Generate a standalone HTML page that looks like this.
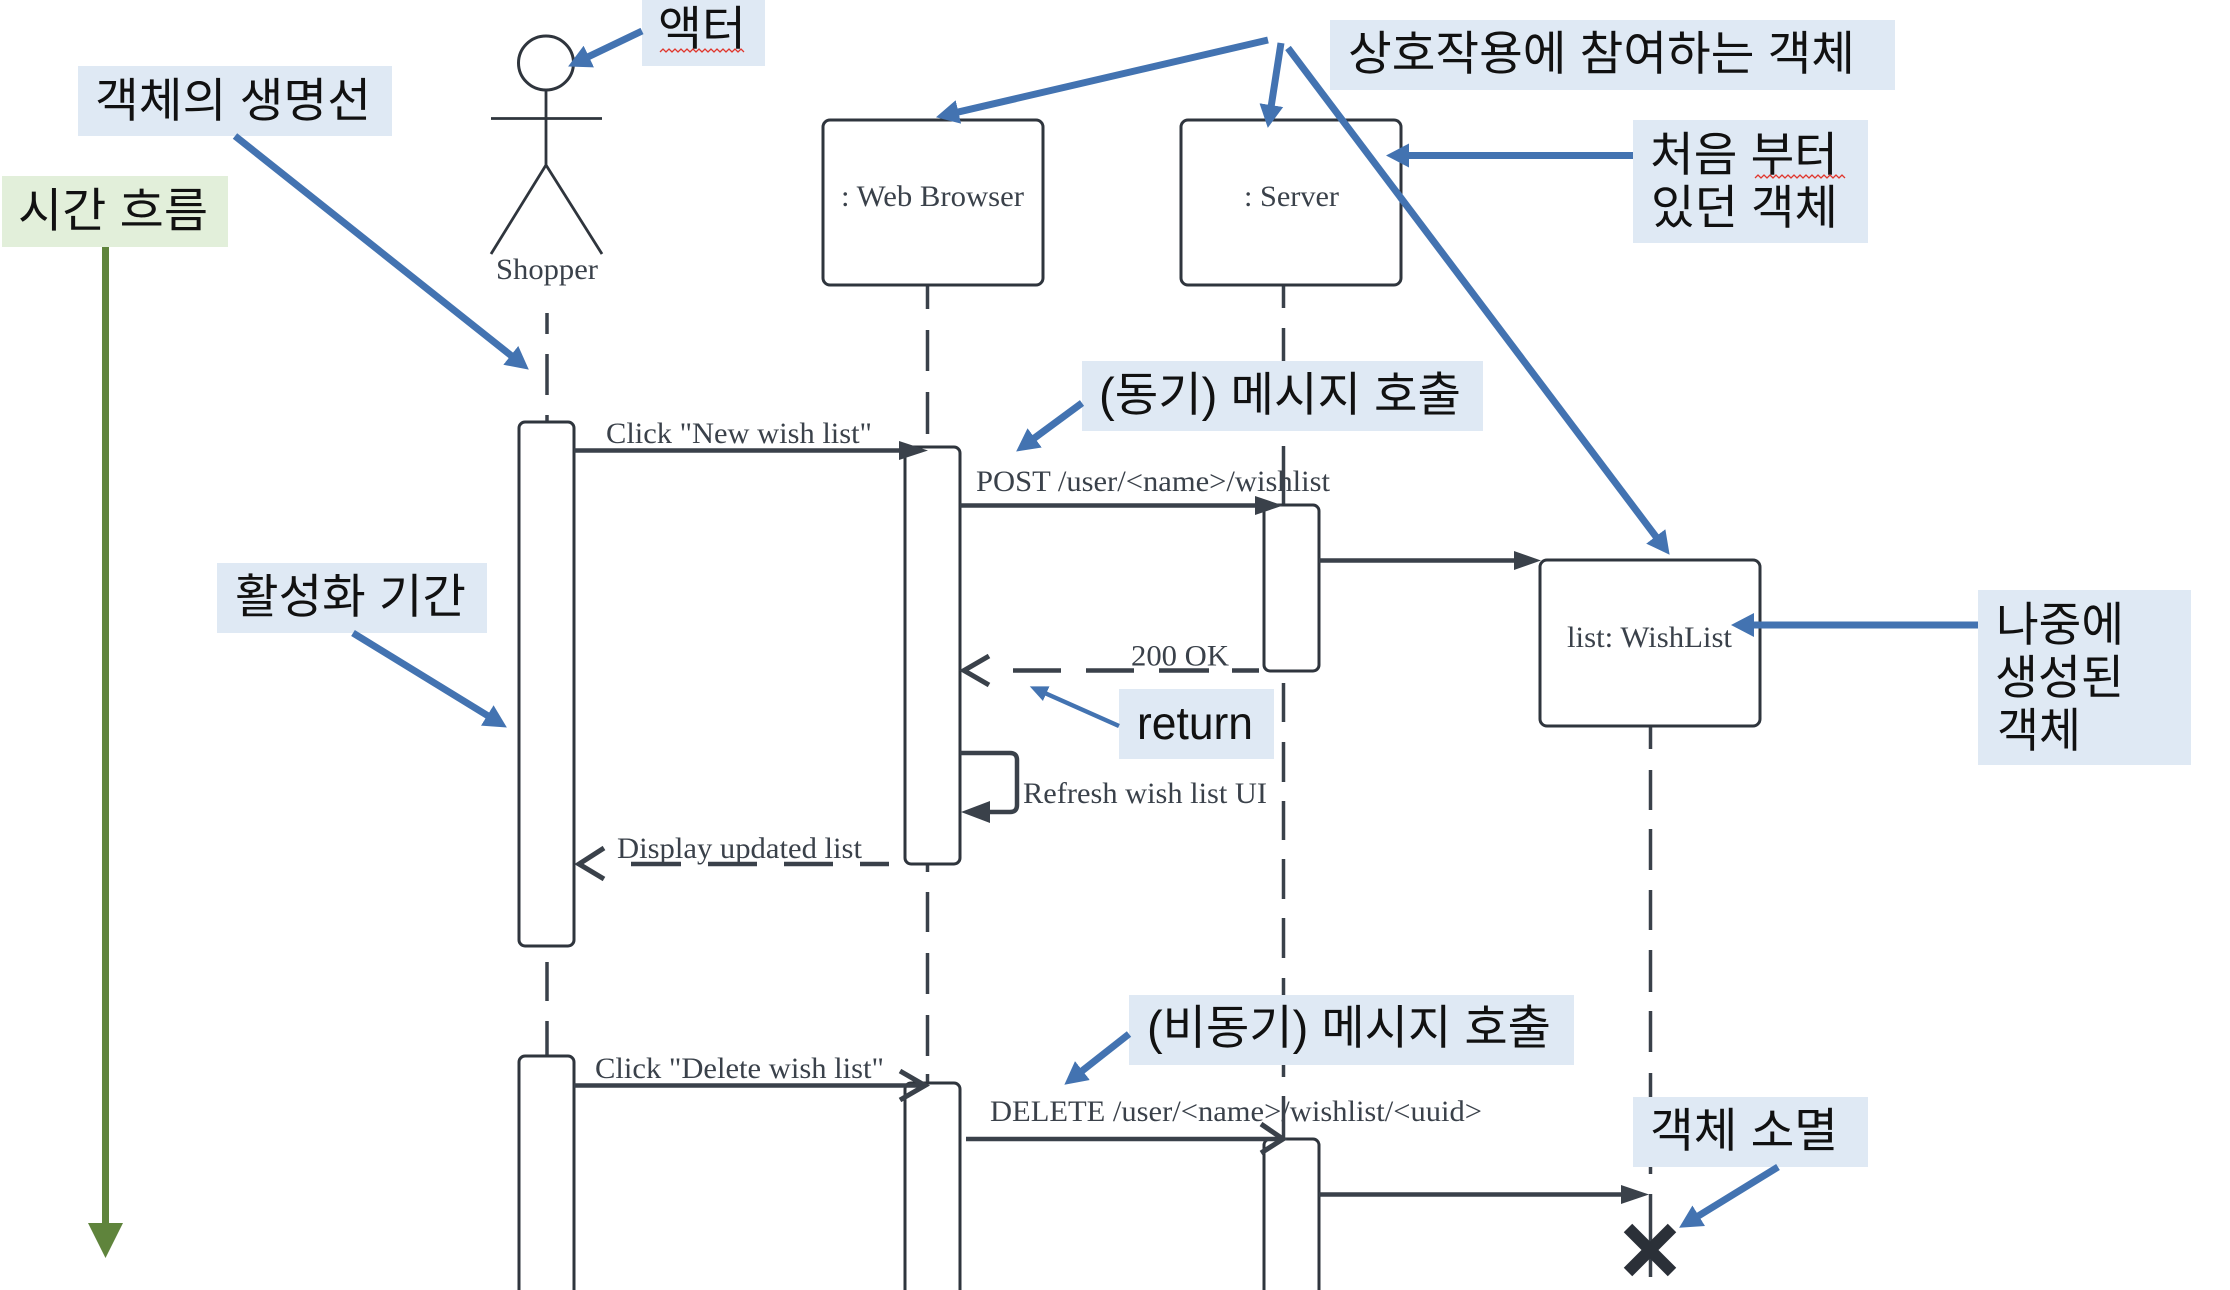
<!DOCTYPE html>
<html lang="ko">
<head>
<meta charset="utf-8">
<title>Sequence diagram</title>
<style>
html,body{margin:0;padding:0;background:#fff;width:2230px;height:1290px;overflow:hidden}
svg{display:block}
.s{font-family:"Liberation Serif",serif;font-size:30px;fill:#3a414a}
.k{font-family:"Liberation Sans","Noto Sans CJK KR",sans-serif;font-size:47px;fill:#111}
.b{fill:#dfe9f4}
.l{stroke:#3a414a;stroke-width:3.5;fill:none}
.m{stroke:#3a414a;stroke-width:4.5;fill:none}
.o{stroke:#3a414a;stroke-width:5;fill:none}
.box{fill:#fff;stroke:#2f353d;stroke-width:3}
.a{stroke:#4373b1;stroke-width:7;fill:none;marker-end:url(#bh)}
</style>
</head>
<body>
<svg width="2230" height="1290" viewBox="0 0 2230 1290" xmlns="http://www.w3.org/2000/svg">
<defs>
<marker id="bh" markerUnits="userSpaceOnUse" markerWidth="26" markerHeight="26" refX="12" refY="12" orient="auto" viewBox="0 0 26 24">
<path d="M0 0L23 12L0 24Z" fill="#4373b1"/>
</marker>
<marker id="bs" markerUnits="userSpaceOnUse" markerWidth="20" markerHeight="18" refX="9" refY="8" orient="auto" viewBox="0 0 20 16">
<path d="M0 0L18 8L0 16Z" fill="#4373b1"/>
</marker>
</defs>

<!-- green time arrow -->
<rect x="2" y="176" width="226" height="71" fill="#e2efda"/>
<line x1="105.500" y1="247" x2="105.500" y2="1230" stroke="#5f843c" stroke-width="7"/>
<path d="M88 1223H123L105.500 1258Z" fill="#5f843c"/>

<!-- lifelines -->
<path class="l" d="M547 313V334M547 354V395M547 415V424M547 962V1001M547 1021V1058"/>
<path class="l" d="M927.500 285V309M927.500 330V371M927.500 392V434M927.500 865V872M927.500 892V932M927.500 953V994M927.500 1015V1056M927.500 1074V1086"/>
<path class="l" d="M1283.500 285V308M1283.500 328V361M1283.500 446V506M1283.500 683V722M1283.500 742V782M1283.500 801V840M1283.500 859V899M1283.500 918V958M1283.500 978V995M1283.500 1065V1077M1283.500 1096V1139"/>
<path class="l" d="M1650.500 726V749M1650.500 770V810M1650.500 829V870M1650.500 890V930M1650.500 950V992M1650.500 1011V1052M1650.500 1073V1097M1650.500 1167V1174M1650.500 1194V1277"/>

<!-- actor -->
<ellipse cx="546" cy="63" rx="27.500" ry="27" fill="#fff" stroke="#2f353d" stroke-width="3"/>
<path d="M546 90V165M491 118.500H602M491 254L546 165L602 254" fill="none" stroke="#2f353d" stroke-width="2.800"/>
<text class="s" x="496" y="279" textLength="102" lengthAdjust="spacingAndGlyphs">Shopper</text>

<!-- object boxes -->
<rect class="box" x="823" y="120" width="220" height="165" rx="7"/>
<text class="s" x="841" y="206" textLength="183" lengthAdjust="spacingAndGlyphs">: Web Browser</text>
<rect class="box" x="1181" y="120" width="220" height="165" rx="7"/>
<text class="s" x="1244" y="206" textLength="95" lengthAdjust="spacingAndGlyphs">: Server</text>
<rect class="box" x="1540" y="560" width="220" height="166" rx="7"/>
<text class="s" x="1567" y="647" textLength="165" lengthAdjust="spacingAndGlyphs">list: WishList</text>

<!-- activations -->
<rect class="box" x="519" y="422" width="55" height="524" rx="6"/>
<rect class="box" x="905" y="447" width="55" height="417" rx="6"/>
<rect class="box" x="1264" y="505" width="55" height="166" rx="6"/>
<rect class="box" x="519" y="1056" width="55" height="260" rx="6"/>
<rect class="box" x="905" y="1083" width="55" height="233" rx="6"/>
<rect class="box" x="1264" y="1139" width="55" height="177" rx="6"/>

<!-- messages -->
<line class="m" x1="574" y1="450.500" x2="905" y2="450.500"/>
<path d="M899 441L928 450.500L899 460Z" fill="#3a414a"/>
<text class="s" x="606" y="443" textLength="266" lengthAdjust="spacingAndGlyphs">Click "New wish list"</text>

<line class="m" x1="960" y1="505.500" x2="1262" y2="505.500"/>
<path d="M1255 496L1283 505.500L1255 515Z" fill="#3a414a"/>
<text class="s" x="976" y="491" textLength="354" lengthAdjust="spacingAndGlyphs">POST /user/&lt;name&gt;/wishlist</text>

<line class="m" x1="1319" y1="560.500" x2="1518" y2="560.500"/>
<path d="M1514 551L1541 560.500L1514 570Z" fill="#3a414a"/>

<path class="m" d="M1013 670.500H1061M1086 670.500H1134M1159 670.500H1209M1232 670.500H1259"/>
<path class="o" d="M989 656L964 670.500L989 685"/>
<text class="s" x="1131" y="665.500" textLength="98" lengthAdjust="spacingAndGlyphs">200 OK</text>

<path class="m" d="M960 753H1010Q1017 753 1017 760V805Q1017 812 1010 812H985"/>
<path d="M990 801L961 812L990 823Z" fill="#3a414a"/>
<text class="s" x="1023" y="803" textLength="244" lengthAdjust="spacingAndGlyphs">Refresh wish list UI</text>

<path class="m" d="M631 864H681M708 864H757M784 864H833M860 864H889"/>
<path class="o" d="M604 848L579 864L604 879"/>
<text class="s" x="617" y="858" textLength="245" lengthAdjust="spacingAndGlyphs">Display updated list</text>

<line class="m" x1="574" y1="1085.500" x2="925" y2="1085.500"/>
<path class="o" d="M900 1071L925 1085.500L900 1100"/>
<text class="s" x="595" y="1078" textLength="289" lengthAdjust="spacingAndGlyphs">Click "Delete wish list"</text>

<line class="m" x1="966" y1="1139" x2="1282" y2="1139"/>
<path class="o" d="M1261 1124L1283 1139L1261 1153"/>
<text class="s" x="990" y="1121" textLength="492" lengthAdjust="spacingAndGlyphs">DELETE /user/&lt;name&gt;/wishlist/&lt;uuid&gt;</text>

<line class="m" x1="1319" y1="1194.500" x2="1625" y2="1194.500"/>
<path d="M1621 1185L1649 1194.500L1621 1204Z" fill="#3a414a"/>

<!-- destroy X -->
<path d="M1628 1228L1672 1272M1672 1228L1628 1272" stroke="#2b3038" stroke-width="12" fill="none"/>

<!-- labels -->
<rect class="b" x="642" y="0" width="123" height="66"/>
<text class="k" x="658" y="45" textLength="88" lengthAdjust="spacingAndGlyphs">액터</text>
<path d="M660 52l3-3 3 3 3-3 3 3 3-3 3 3 3-3 3 3 3-3 3 3 3-3 3 3 3-3 3 3 3-3 3 3 3-3 3 3 3-3 3 3 3-3 3 3 3-3 3 3 3-3 3 3 3-3 3 3" fill="none" stroke="#e0362c" stroke-width="1.300"/>

<rect class="b" x="78" y="66" width="314" height="70"/>
<text class="k" x="95" y="117" textLength="276" lengthAdjust="spacingAndGlyphs">객체의 생명선</text>

<text class="k" x="18" y="227" textLength="190" lengthAdjust="spacingAndGlyphs">시간 흐름</text>

<rect class="b" x="217" y="563" width="270" height="70"/>
<text class="k" x="235" y="613" textLength="231" lengthAdjust="spacingAndGlyphs">활성화 기간</text>

<rect class="b" x="1330" y="20" width="565" height="70"/>
<text class="k" x="1348" y="70" textLength="507" lengthAdjust="spacingAndGlyphs">상호작용에 참여하는 객체</text>

<rect class="b" x="1633" y="120" width="235" height="123"/>
<text class="k" x="1650" y="171" textLength="188" lengthAdjust="spacingAndGlyphs">처음 부터</text>
<text class="k" x="1651" y="224" textLength="187" lengthAdjust="spacingAndGlyphs">있던 객체</text>
<path d="M1755 178l3-3 3 3 3-3 3 3 3-3 3 3 3-3 3 3 3-3 3 3 3-3 3 3 3-3 3 3 3-3 3 3 3-3 3 3 3-3 3 3 3-3 3 3 3-3 3 3 3-3 3 3 3-3 3 3 3-3 3 3" fill="none" stroke="#e0362c" stroke-width="1.300"/>

<rect class="b" x="1082" y="361" width="401" height="70"/>
<text class="k" x="1099" y="411" textLength="362" lengthAdjust="spacingAndGlyphs">(동기) 메시지 호출</text>

<rect class="b" x="1119" y="689" width="155" height="70"/>
<text x="1137" y="739" textLength="116" lengthAdjust="spacingAndGlyphs" style="font-family:'Liberation Sans',sans-serif;font-size:46px;fill:#111">return</text>

<rect class="b" x="1978" y="590" width="213" height="175"/>
<text class="k" x="1996" y="641" textLength="128" lengthAdjust="spacingAndGlyphs">나중에</text>
<text class="k" x="1995" y="694" textLength="129" lengthAdjust="spacingAndGlyphs">생성된</text>
<text class="k" x="1997" y="747" textLength="84" lengthAdjust="spacingAndGlyphs">객체</text>

<rect class="b" x="1129" y="995" width="445" height="70"/>
<text class="k" x="1147" y="1044" textLength="404" lengthAdjust="spacingAndGlyphs">(비동기) 메시지 호출</text>

<rect class="b" x="1633" y="1097" width="235" height="70"/>
<text class="k" x="1650" y="1147" textLength="188" lengthAdjust="spacingAndGlyphs">객체 소멸</text>

<!-- blue callout arrows -->
<line class="a" x1="642" y1="31" x2="578" y2="61.700"/>
<line class="a" x1="235" y1="136" x2="520.200" y2="362.800"/>
<line class="a" x1="353" y1="633" x2="497.500" y2="721.700"/>
<line class="a" x1="1268" y1="40" x2="946.700" y2="114.700"/>
<line class="a" x1="1281" y1="43" x2="1269.500" y2="117"/>
<line class="a" x1="1288" y1="48" x2="1663" y2="546"/>
<line class="a" x1="1633" y1="155.500" x2="1397" y2="155.500"/>
<line class="a" x1="1978" y1="625" x2="1742" y2="625"/>
<line class="a" x1="1082" y1="403" x2="1025" y2="445"/>
<line class="a" x1="1129" y1="1034" x2="1073" y2="1078"/>
<line class="a" x1="1778" y1="1167" x2="1688.500" y2="1222"/>
<line x1="1119" y1="726" x2="1038" y2="690" stroke="#4373b1" stroke-width="4.500" marker-end="url(#bs)"/>
</svg>
</body>
</html>
